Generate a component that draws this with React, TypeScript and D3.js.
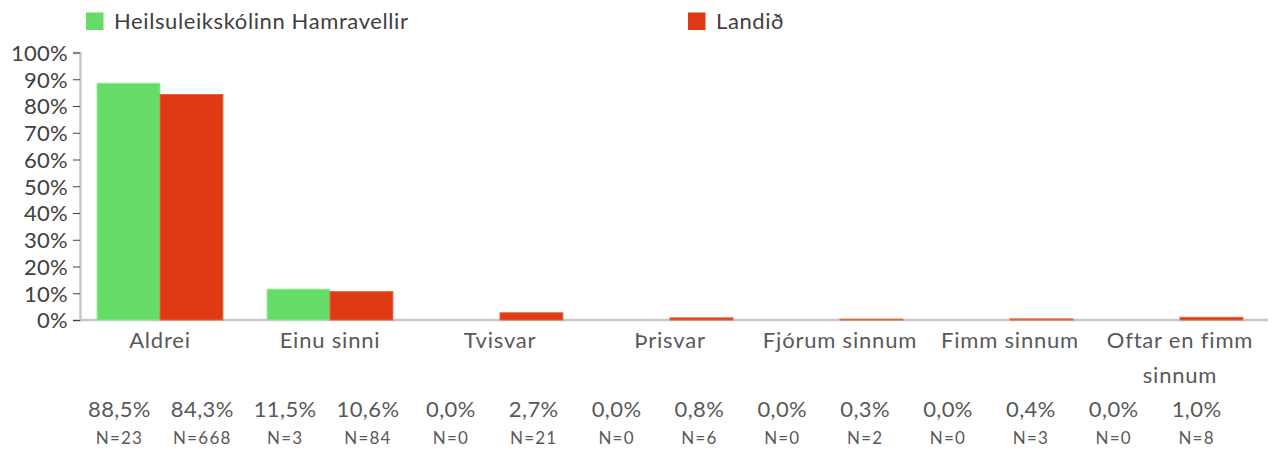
import React, { useEffect, useRef } from "react";
import * as d3 from "d3";

const categories = ["Aldrei", "Einu sinni", "Tvisvar", "Þrisvar", "Fjórum sinnum", "Fimm sinnum", "Oftar en fimm sinnum"];
const seriesNames = ["Heilsuleikskólinn Hamravellir", "Landið"];
const schoolValues = [88.5, 11.5, 0.0, 0.0, 0.0, 0.0, 0.0];
const countryValues = [84.3, 10.6, 2.7, 0.8, 0.3, 0.4, 1.0];
const schoolCounts = [23, 3, 0, 0, 0, 0, 0];
const countryCounts = [668, 84, 21, 6, 2, 3, 8];
const yTicks = [0, 10, 20, 30, 40, 50, 60, 70, 80, 90, 100];

const colors = ["#66dc68", "#e03a14"];
const FONT = "Lato, 'Open Sans', sans-serif";

const App = () => {
  const ref = useRef<SVGSVGElement>(null);

  useEffect(() => {
    const svg = d3.select(ref.current);
    svg.selectAll("*").remove();

    const width = 1277;
    const height = 455;
    const left = 80;
    const right = 1268;
    const top = 52.5;
    const bottom = 320;

    svg.attr("width", width).attr("height", height);

    const x = d3.scaleBand().domain(categories).range([75, 1265]).paddingInner(0.26).paddingOuter(0.13);
    const xs = d3.scaleBand().domain(seriesNames).range([0, x.bandwidth()]);
    const y = d3.scaleLinear().domain([0, 100]).range([bottom, top]);

    // legend
    const legendX = [86, 688];
    seriesNames.forEach((name, i) => {
      const lg = svg.append("g").attr("transform", `translate(${legendX[i]},12.5)`);
      lg.append("rect").attr("width", 17.5).attr("height", 17.5).attr("fill", colors[i]);
      lg.append("text")
        .attr("x", 28)
        .attr("y", 16)
        .attr("font-family", FONT)
        .attr("font-size", 22)
        .attr("letter-spacing", 0.6)
        .attr("fill", "#404040")
        .text(name);
    });

    // y axis
    const yAxis = svg
      .append("g")
      .attr("transform", `translate(${left},0)`)
      .call(
        d3
          .axisLeft(y)
          .tickValues(yTicks)
          .tickSize(7)
          .tickPadding(5)
          .tickFormat((d) => `${d}%`)
      );
    yAxis.select(".domain").attr("stroke", "#c8c8c8").attr("stroke-width", 2.5);
    yAxis.selectAll(".tick line").attr("stroke", "#404040").attr("stroke-width", 1);
    yAxis
      .selectAll("text")
      .attr("font-family", FONT)
      .attr("font-size", 22)
      .attr("letter-spacing", 0.3)
      .attr("fill", "#404040")
      .attr("dy", "0.36em");

    // x axis line
    svg
      .append("line")
      .attr("x1", left)
      .attr("x2", right)
      .attr("y1", bottom)
      .attr("y2", bottom)
      .attr("stroke", "#c8c8c8")
      .attr("stroke-width", 2.5);

    // bars
    const rows = categories.map((c, i) => ({ c, vals: [schoolValues[i], countryValues[i]] }));
    const groups = svg
      .append("g")
      .selectAll("g")
      .data(rows)
      .join("g")
      .attr("transform", (d) => `translate(${x(d.c)},0)`);
    groups
      .selectAll("rect")
      .data((d) => d.vals.map((v, j) => ({ v, j })))
      .join("rect")
      .attr("x", (d) => xs(seriesNames[d.j])!)
      .attr("width", xs.bandwidth())
      .attr("y", (d) => y(d.v))
      .attr("height", (d) => bottom - y(d.v))
      .attr("fill", (d) => colors[d.j])
      .attr("stroke", (d) => (d.j === 0 ? "#8ee88f" : "#e8623f"))
      .attr("stroke-width", (d) => (d.v > 0 ? 1 : 0));

    // category labels (wrapped)
    const maxW = x.step() - 4;
    categories.forEach((c) => {
      const cx = x(c)! + x.bandwidth() / 2;
      const t = svg
        .append("text")
        .attr("x", cx)
        .attr("y", 348)
        .attr("text-anchor", "middle")
        .attr("font-family", FONT)
        .attr("font-size", 22)
        .attr("letter-spacing", 0.8)
        .attr("fill", "#595959");
      const words = c.split(" ");
      let line: string[] = [];
      let tspan = t.append("tspan").attr("x", cx).attr("dy", 0);
      words.forEach((w) => {
        line.push(w);
        tspan.text(line.join(" "));
        if ((tspan.node() as SVGTSpanElement).getComputedTextLength() > maxW && line.length > 1) {
          line.pop();
          tspan.text(line.join(" "));
          line = [w];
          tspan = t.append("tspan").attr("x", cx).attr("dy", 35).text(w);
        }
      });
    });

    // data table below
    const cells = categories.flatMap((c, i) => [
      { v: schoolValues[i], n: schoolCounts[i] },
      { v: countryValues[i], n: countryCounts[i] },
    ]);
    const xc = d3
      .scaleBand<number>()
      .domain(d3.range(cells.length))
      .range([78, 1238]);
    const fmt = (v: number) => `${v.toFixed(1).replace(".", ",")}%`;
    const cellG = svg
      .append("g")
      .selectAll("g")
      .data(cells)
      .join("g")
      .attr("transform", (_, i) => `translate(${xc(i)! + xc.bandwidth() / 2},0)`);
    cellG
      .append("text")
      .attr("y", 417)
      .attr("text-anchor", "middle")
      .attr("font-family", FONT)
      .attr("font-size", 22)
      .attr("letter-spacing", 0.4)
      .attr("fill", "#595959")
      .text((d) => fmt(d.v));
    cellG
      .append("text")
      .attr("y", 444)
      .attr("text-anchor", "middle")
      .attr("font-family", FONT)
      .attr("font-size", 17)
      .attr("letter-spacing", 1.2)
      .attr("fill", "#595959")
      .text((d) => `N=${d.n}`);
  }, []);

  return <svg ref={ref} style={{ display: "block", margin: "-8px" }}></svg>;
};

export default App;
